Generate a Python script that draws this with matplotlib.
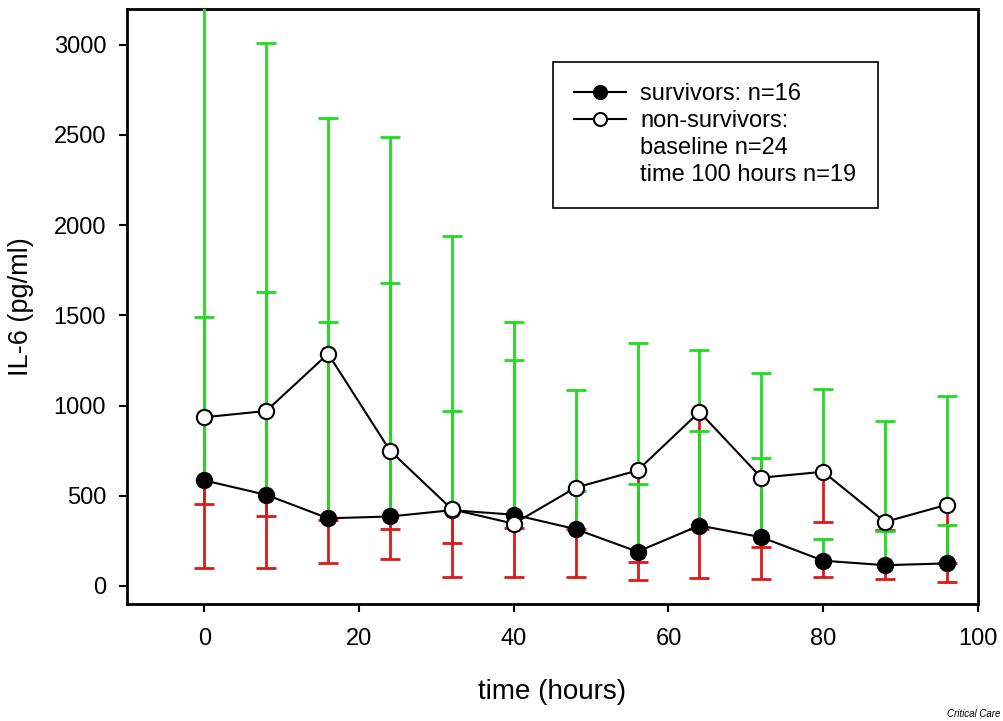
import numpy as np
import matplotlib
matplotlib.use("Agg")
import matplotlib.pyplot as plt
from matplotlib.lines import Line2D

plt.rcParams['font.family'] = ['Liberation Sans', 'DejaVu Sans']

#####################################################################
# data (IL-6, pg/ml)
#####################################################################
time_h = [0, 8, 16, 24, 32, 40, 48, 56, 64, 72, 80, 88, 96]

surv_med = [585, 505, 375, 385, 420, 395, 315, 190, 335, 270, 140, 115, 125]
surv_hi = [1490, 1630, 1462, 1679, 970, 1250, 524, 563, 860, 707, 260, 306, 338]
surv_lo = [100, 100, 125, 147, 48, 48, 48, 35, 42, 39, 48, 39, 24]

nons_med = [935, 970, 1287, 750, 425, 345, 545, 640, 965, 600, 633, 355, 450]
nons_hi = [3400, 3010, 2594, 2491, 1938, 1464, 1085, 1345, 1308, 1183, 1091, 915, 1054]
nons_lo = [455, 385, 365, 313, 236, 320, 316, 131, 316, 218, 356, 310, 128]

yticks = [0, 500, 1000, 1500, 2000, 2500, 3000]
xticks = [0, 20, 40, 60, 80, 100]

green = '#1fdc1f'
red = '#dc1a1a'

#####################################################################
fig = plt.figure(figsize=(10.04, 7.21), dpi=100)
ax = fig.add_axes([0.1265, 0.1623, 0.8475, 0.8257])

x = np.array(time_h)

# lower bars (red) first, upper bars (green) drawn on top
for med, lo in [(surv_med, surv_lo), (nons_med, nons_lo)]:
    ax.vlines(x, lo, med, color=red, lw=2, zorder=2)
    ax.plot(x, lo, ls='none', marker='_', ms=14, mew=2, color=red, zorder=2)

for med, hi in [(surv_med, surv_hi), (nons_med, nons_hi)]:
    ax.vlines(x, med, hi, color=green, lw=2, zorder=3)
    ax.plot(x, hi, ls='none', marker='_', ms=14, mew=2, color=green, zorder=3)

h1, = ax.plot(x, surv_med, color='black', lw=1.5, marker='o', ms=11,
              mfc='black', mec='black', mew=1.5, zorder=5)
h2, = ax.plot(x, nons_med, color='black', lw=1.5, marker='o', ms=11,
              mfc='white', mec='black', mew=1.5, zorder=5)

ax.set_xlim(-10, 100)
ax.set_ylim(-100, 3200)
ax.set_xticks(xticks)
ax.set_yticks(yticks)
ax.tick_params(axis='both', direction='out', length=6, width=1.5, labelsize=17)
ax.tick_params(axis='y', pad=9)
ax.tick_params(axis='x', pad=11)
for s in ax.spines.values():
    s.set_linewidth(2)

ax.set_xlabel('time (hours)', fontsize=20, labelpad=21)
ax.set_ylabel('IL-6 (pg/ml)', fontsize=19.5, labelpad=14)

# legend: the open-circle handle sits on the first line of its label
blank = Line2D([], [], color='none')
handles = [h1, h2, blank, blank]
labels = ['survivors: n=16', 'non-survivors:', 'baseline n=24',
          'time 100 hours n=19']
leg = ax.legend(handles, labels, loc='upper left',
                bbox_to_anchor=(0.5006, 0.911), fontsize=17,
                frameon=True, fancybox=False, edgecolor='black', framealpha=1,
                handlelength=2.2, handletextpad=0.6, borderpad=0.9,
                labelspacing=0.22, markerscale=0.85, borderaxespad=0)
leg.get_frame().set_linewidth(1.2)

fig.text(0.996, 0.003, 'Critical Care', fontsize=7, style='italic',
         ha='right', va='bottom')

fig.savefig('out.png', dpi=100)
